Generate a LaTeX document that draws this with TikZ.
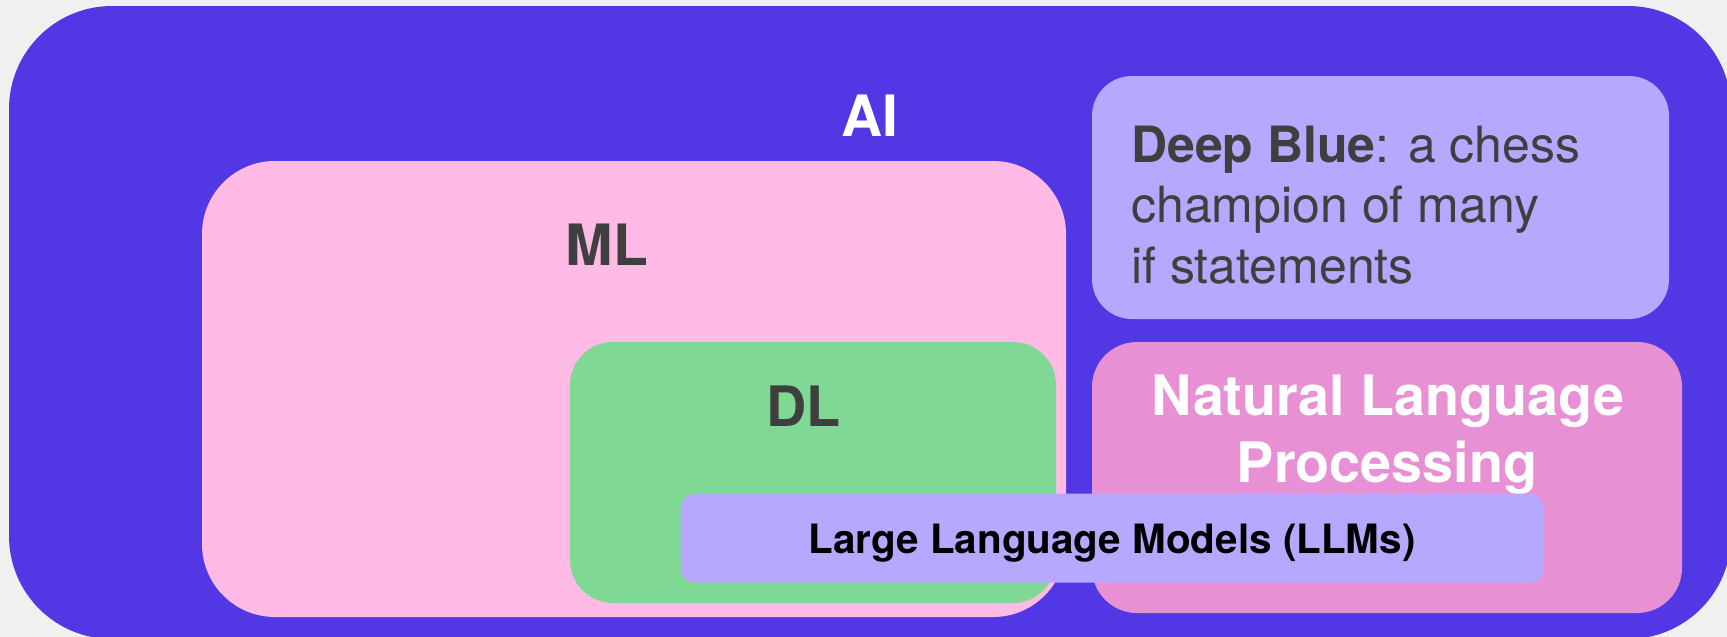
\documentclass[tikz,border=0pt]{standalone}
\usepackage{fontspec}
\setmainfont{TeX Gyre Heros}
\definecolor{bgc}{HTML}{F0F0F0}
\definecolor{aicol}{HTML}{5238E4}
\definecolor{mlcol}{HTML}{FFBBE6}
\definecolor{dlcol}{HTML}{7FD994}
\definecolor{lavcol}{HTML}{B6A8FE}
\definecolor{nlpcol}{HTML}{E890D4}
\definecolor{txtgray}{HTML}{3F3F3F}
\begin{document}
\begin{tikzpicture}[x=1pt,y=-1pt,
  lbl/.style={inner sep=0pt, anchor=base},
  lblw/.style={inner sep=0pt, anchor=base west},
  bigbold/.style={font=\fontsize{57}{68}\selectfont\bfseries},
  midbold/.style={font=\fontsize{55.7}{66}\selectfont\bfseries},
  llmfont/.style={font=\fontsize{40.4}{48}\selectfont\bfseries},
  dbfont/.style={font=\fontsize{50}{61}\selectfont},
]
\useasboundingbox (0,0) rectangle (1727,637);
\clip (0,0) rectangle (1727,637);
\fill[bgc] (0,0) rectangle (1727,637);
% AI outer box
\fill[aicol, rounded corners=103pt] (9,6) rectangle (1731,639);
% ML box
\fill[mlcol, rounded corners=73pt] (202,161) rectangle (1066,617);
% DL box
\fill[dlcol, rounded corners=43pt] (570,342) rectangle (1056,603);
% Deep Blue box
\fill[lavcol, rounded corners=40pt] (1092,76) rectangle (1669,319);
% NLP box
\fill[nlpcol, rounded corners=45pt] (1092,342) rectangle (1682,613);
% labels
\node[lbl, bigbold, text=white] (ailbl) at (870,136.7) {AI};
\node[lbl, bigbold, text=txtgray] (mllbl) at (607,265) {ML};
\node[lbl, midbold, text=txtgray] (dllbl) at (803.5,426.7) {DL};
\node[lbl, midbold, text=white] (nlpa) at (1388,415.7) {Natural Language};
\node[lbl, midbold, text=white] (nlpb) at (1387,482.3) {Processing};
\node[lblw, dbfont, text=txtgray] (dba) at (1131,162) {\textbf{Deep Blue}: a chess};
\node[lblw, dbfont, text=txtgray] (dbb) at (1131,222) {champion of many};
\node[lblw, dbfont, text=txtgray] (dbc) at (1131,283) {if statements};
% LLM box on top
\fill[lavcol, rounded corners=15pt] (680.5,493.7) rectangle (1544,582.7);
\node[lbl, llmfont, text=black] (llmlbl) at (1112,553.3) {Large Language Models (LLMs)};
\end{tikzpicture}
\end{document}
